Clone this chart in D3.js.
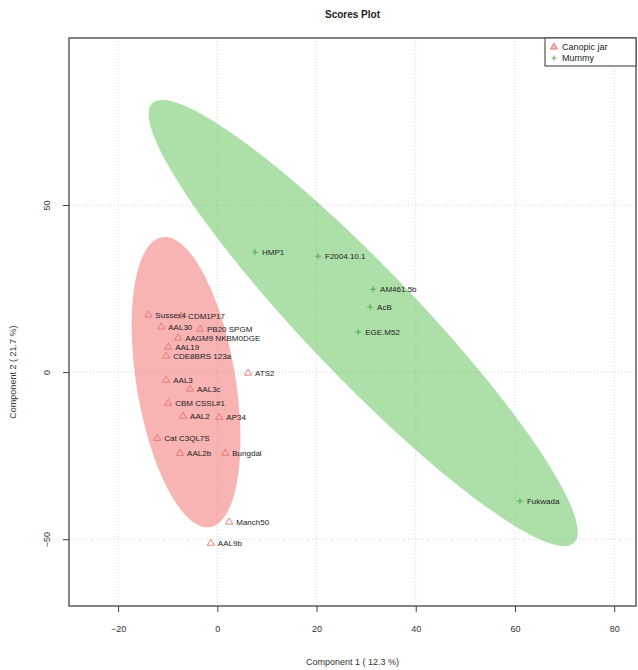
<!DOCTYPE html>
<html>
<head>
<meta charset="utf-8">
<script src="https://cdn.jsdelivr.net/npm/d3@7"></script>
<style>
  body { margin: 0; background: #fff; }
  text { font-family: "Liberation Sans", Arial, sans-serif; }
</style>
</head>
<body>
<div id="chart"></div>
<script>
// ====== Scores Plot ======
// group names and colours
let groups = ["Canopic jar", "Mummy"];

// Canopic jar samples
let jarNames = ["Sussex4", "CDM1P17", "AAL30", "PB20 SPGM", "AAGM9 NKBM0DGE",
                "AAL19", "CDE8BRS 123a", "ATS2", "AAL3", "AAL3c",
                "CBM CSSL#1", "AAL2", "AP34", "Cat C3QL7S", "AAL2b", "Bungdal",
                "Manch50", "AAL9b"];
let jarX = [-13.9, -7.3, -11.3, -3.5, -7.9, -9.9, -10.3, 6.2, -10.3, -5.5,
            -9.9, -6.9, 0.4, -12.1, -7.5, 1.6, 2.4, -1.3];
let jarY = [17.1, 16.8, 13.5, 12.9, 10.2, 7.5, 4.8, -0.3, -2.4, -5.1,
            -9.3, -13.2, -13.5, -19.8, -24.3, -24.3, -44.9, -51.2];

// Mummy samples
let mumNames = ["HMP1", "F2004.10.1", "AM461.5b", "AcB", "EGE.M52", "Fukwada"];
let mumX = [7.6, 20.3, 31.4, 30.8, 28.4, 61.0];
let mumY = [35.9, 34.7, 24.8, 19.5, 12.0, -38.6];

// confidence ellipses: centre and two conjugate half axes (data units)
let ellCentre = [[-6.3, -3.0], [29.4, 14.7]];
let ellMajor = [[4.84, -43.4], [42.5, -65.8]];
let ellMinor = [[9.84, 2.42], [8.0, 11.4]];

let xTicks = [-20, 0, 20, 40, 60, 80];
let yTicks = [-50, 0, 50];

let margin = {top: 38, right: 2, bottom: 64, left: 69},
    width = 638 - margin.left - margin.right,
    height = 670 - margin.top - margin.bottom;

let x = d3.scaleLinear().domain([-29.9, 84.4]).range([0, width]);
let y = d3.scaleLinear().domain([-70, 100]).range([height, 0]);

let fillCol = ["rgb(238,73,73)", "rgb(60,180,50)"];
let markCol = ["#e87373", "#49a845"];

let svg = d3.select("#chart").append("svg")
    .attr("width", 638)
    .attr("height", 670)
  .append("g")
    .attr("transform", "translate(" + margin.left + "," + margin.top + ")");

// gridlines
svg.append("g")
    .selectAll("line").data(xTicks).enter().append("line")
    .attr("x1", d => x(d)).attr("x2", d => x(d))
    .attr("y1", 0).attr("y2", height)
    .attr("stroke", "#d8d8d8").attr("stroke-dasharray", "1,2");
svg.append("g")
    .selectAll("line").data(yTicks).enter().append("line")
    .attr("y1", d => y(d)).attr("y2", d => y(d))
    .attr("x1", 0).attr("x2", width)
    .attr("stroke", "#d8d8d8").attr("stroke-dasharray", "1,2");

// ellipses
let angles = d3.range(0, 2 * Math.PI, Math.PI / 60);
let line = d3.line().x(d => x(d[0])).y(d => y(d[1])).curve(d3.curveLinearClosed);
groups.forEach(function(g, i) {
    let pts = angles.map(function(t) {
        return [ellCentre[i][0] + ellMajor[i][0] * Math.cos(t) + ellMinor[i][0] * Math.sin(t),
                ellCentre[i][1] + ellMajor[i][1] * Math.cos(t) + ellMinor[i][1] * Math.sin(t)];
    });
    svg.append("path")
        .attr("d", line(pts))
        .attr("fill", fillCol[i])
        .attr("fill-opacity", 0.42)
        .attr("stroke", "none");
});

let jars = jarNames.map((n, i) => ({name: n, x: jarX[i], y: jarY[i]}));
let mums = mumNames.map((n, i) => ({name: n, x: mumX[i], y: mumY[i]}));

// canopic jar points: open triangles
let tri = d3.symbol().type(d3.symbolTriangle).size(22);
svg.selectAll(".jar")
    .data(jars).enter().append("path")
    .attr("class", "jar")
    .attr("d", tri)
    .attr("transform", d => "translate(" + x(d.x) + "," + y(d.y) + ")")
    .attr("fill", "none")
    .attr("stroke", markCol[0])
    .attr("stroke-width", 0.9);

// mummy points: plus signs
svg.selectAll(".mum")
    .data(mums).enter().append("path")
    .attr("class", "mum")
    .attr("d", "M-3,0H3M0,-3V3")
    .attr("transform", d => "translate(" + x(d.x) + "," + y(d.y) + ")")
    .attr("stroke", markCol[1])
    .attr("stroke-width", 0.9);

// labels
svg.selectAll(".lab")
    .data(jars.concat(mums)).enter().append("text")
    .attr("class", "lab")
    .attr("x", d => x(d.x) + 7)
    .attr("y", d => y(d.y))
    .attr("dy", "0.35em")
    .attr("font-size", "8px")
    .attr("fill", "#222")
    .text(d => d.name);

// box
svg.append("rect")
    .attr("width", width).attr("height", height)
    .attr("fill", "none")
    .attr("stroke", "#444").attr("stroke-width", 1.3);

// axes
let xAxis = svg.append("g")
    .attr("transform", "translate(0," + height + ")")
    .call(d3.axisBottom(x).tickValues(xTicks).tickSize(6).tickPadding(14));
let yAxis = svg.append("g")
    .call(d3.axisLeft(y).tickValues(yTicks).tickSize(6).tickPadding(0));
[xAxis, yAxis].forEach(function(a) {
    a.select(".domain").remove();
    a.selectAll(".tick line").attr("stroke", "#444");
    a.selectAll("text").attr("font-size", "9px").attr("fill", "#333")
        .style("font-family", "Liberation Sans, Arial, sans-serif");
});
yAxis.selectAll(".tick text")
    .attr("text-anchor", "middle")
    .attr("x", 0).attr("dy", 0)
    .attr("transform", "translate(-19,0) rotate(-90)");

// axis titles
svg.append("text")
    .attr("x", width / 2).attr("y", height + 59)
    .attr("text-anchor", "middle")
    .attr("font-size", "9px").attr("fill", "#333")
    .text("Component 1 ( 12.3 %)");
svg.append("text")
    .attr("transform", "rotate(-90)")
    .attr("x", -y(0)).attr("y", -53)
    .attr("text-anchor", "middle")
    .attr("font-size", "9px").attr("fill", "#333")
    .text("Component 2 ( 21.7 %)");

// title
svg.append("text")
    .attr("x", width / 2).attr("y", -20)
    .attr("text-anchor", "middle")
    .attr("font-size", "10px").attr("font-weight", "bold").attr("fill", "#222")
    .text("Scores Plot");

// legend
let leg = svg.append("g").attr("transform", "translate(" + (width - 91) + ",0)");
leg.append("rect")
    .attr("width", 91).attr("height", 28)
    .attr("fill", "#fff").attr("stroke", "#444").attr("stroke-width", 1.1);
groups.forEach(function(g, i) {
    let row = leg.append("g").attr("transform", "translate(9," + (9 + i * 11) + ")");
    if (i === 0) {
        row.append("path").attr("d", tri).attr("fill", markCol[0]).attr("fill-opacity", 0.5)
            .attr("stroke", markCol[0]).attr("stroke-width", 0.9);
    } else {
        row.append("path").attr("d", "M-2.5,0H2.5M0,-2.5V2.5")
            .attr("stroke", markCol[1]).attr("stroke-width", 0.9);
    }
    row.append("text").attr("x", 8).attr("dy", "0.35em")
        .attr("font-size", "9px").attr("fill", "#222").text(g);
});
</script>
</body>
</html>
